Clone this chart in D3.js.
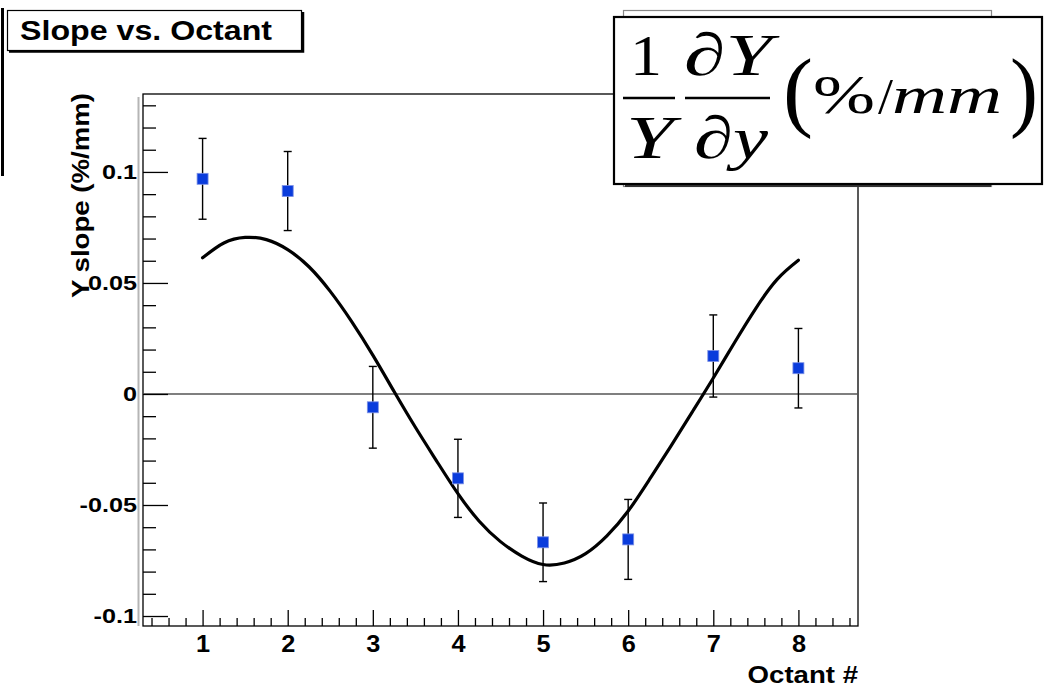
<!DOCTYPE html>
<html>
<head>
<meta charset="utf-8">
<script src="https://cdn.jsdelivr.net/npm/d3@7"></script>
<style>
  html, body { margin: 0; padding: 0; background: #fff; }
  svg { display: block; }
  .lab { font-family: "Liberation Sans", Arial, Helvetica, sans-serif; font-weight: bold; fill: #000; }
  .tex { font-family: "Liberation Serif", "Times New Roman", serif; fill: #000; }
</style>
</head>
<body>
<svg id="chart" width="1050" height="691"></svg>
<script>
// Measured Y slope per octant, with uncertainties
const octants  = [1, 2, 3, 4, 5, 6, 7, 8];
const slope    = [0.0969, 0.0914, -0.0060, -0.0380, -0.0668, -0.0655, 0.0171, 0.0116];
const slopeErr = [0.0182, 0.0178, 0.0184, 0.0176, 0.0177, 0.0180, 0.0185, 0.0179];

// Fitted curve, sampled every quarter octant
const fitX = [1, 1.25, 1.5, 1.75, 2, 2.25, 2.5, 2.75, 3, 3.25, 3.5, 3.75, 4, 4.25, 4.5, 4.75,
              5, 5.25, 5.5, 5.75, 6, 6.25, 6.5, 6.75, 7, 7.25, 7.5, 7.75, 8];
const fitY = [0.0613, 0.0680, 0.0705, 0.0695, 0.0650, 0.0573, 0.0462, 0.0327, 0.0175, 0.0011,
              -0.0150, -0.0302, -0.0449, -0.0573, -0.0665, -0.0730, -0.0768, -0.0761, -0.0719,
              -0.0639, -0.0527, -0.0385, -0.0236, -0.0083, 0.0072, 0.0232, 0.0386, 0.0516, 0.0602];

// Axis ticks and labels
const xTickValues = [1, 2, 3, 4, 5, 6, 7, 8];
const xTickLabels = ["1", "2", "3", "4", "5", "6", "7", "8"];
const yTickValues = [-0.1, -0.05, 0, 0.05, 0.1];
const yTickLabels = ["-0.1", "-0.05", "0", "0.05", "0.1"];

const title  = "Slope vs. Octant";
const xTitle = "Octant #";
const yTitle = "Y slope (%/mm)";

const svg = d3.select("#chart");

// widen bold sans labels to the broad lettering of the plot
function widen(sel, k) {
  sel.each(function () {
    const len = this.getComputedTextLength();
    d3.select(this).attr("textLength", len * k).attr("lengthAdjust", "spacingAndGlyphs");
  });
}

const frame = { left: 143, right: 858, top: 94, bottom: 626 };
const x = d3.scaleLinear().domain([0.3, 8.7]).range([frame.left, frame.right]);
const y = d3.scaleLinear().domain([-0.1045, 0.1351]).range([frame.bottom, frame.top]);

// page edge line on the far left
svg.append("line").attr("x1", 2.5).attr("x2", 2.5).attr("y1", 8).attr("y2", 176)
  .attr("stroke", "#000").attr("stroke-width", 3);

// soft grey edge next to the y axis
svg.append("line").attr("x1", 138.5).attr("x2", 138.5).attr("y1", 97).attr("y2", frame.bottom)
  .attr("stroke", "#b5b5b5").attr("stroke-width", 2);

// plot frame
svg.append("rect")
  .attr("x", frame.left).attr("y", frame.top)
  .attr("width", frame.right - frame.left).attr("height", frame.bottom - frame.top)
  .attr("fill", "none").attr("stroke", "#000").attr("stroke-width", 1.3);

// zero line
svg.append("line")
  .attr("x1", frame.left).attr("x2", frame.right)
  .attr("y1", y(0)).attr("y2", y(0))
  .attr("stroke", "#555").attr("stroke-width", 1.5);

// y axis: minor and major ticks pointing inward
const yMinor = d3.range(-10, 14).map(d => d / 100).filter(v => !yTickValues.some(t => Math.abs(t - v) < 1e-9));
svg.append("g").attr("transform", `translate(${frame.left},0)`)
  .call(d3.axisLeft(y).tickValues(yMinor).tickSizeInner(-13).tickSizeOuter(0).tickFormat(""))
  .call(g => g.select(".domain").remove())
  .call(g => g.selectAll("line").attr("stroke", "#000").attr("stroke-width", 1.3));

svg.append("g").attr("transform", `translate(${frame.left},0)`)
  .call(d3.axisLeft(y).tickValues(yTickValues).tickSizeInner(-25).tickSizeOuter(0).tickPadding(6)
    .tickFormat((d, i) => yTickLabels[i]))
  .call(g => g.select(".domain").remove())
  .call(g => g.selectAll("line").attr("stroke", "#000").attr("stroke-width", 1.3))
  .call(g => g.selectAll("text").attr("class", "lab").style("font-size", "21px").attr("fill", "#000"))
  .call(g => widen(g.selectAll("text"), 1.2));

// x axis
const xMinor = d3.range(2, 44).map(d => d / 5).filter(v => !xTickValues.some(t => Math.abs(t - v) < 1e-9));
svg.append("g").attr("transform", `translate(0,${frame.bottom})`)
  .call(d3.axisBottom(x).tickValues(xMinor).tickSizeInner(-8).tickSizeOuter(0).tickFormat(""))
  .call(g => g.select(".domain").remove())
  .call(g => g.selectAll("line").attr("stroke", "#000").attr("stroke-width", 1.3));

svg.append("g").attr("transform", `translate(0,${frame.bottom})`)
  .call(d3.axisBottom(x).tickValues(xTickValues).tickSizeInner(-16).tickSizeOuter(0).tickPadding(10)
    .tickFormat((d, i) => xTickLabels[i]))
  .call(g => g.select(".domain").remove())
  .call(g => g.selectAll("line").attr("stroke", "#000").attr("stroke-width", 1.3))
  .call(g => g.selectAll("text").attr("class", "lab").style("font-size", "23px").attr("fill", "#000"))
  .call(g => widen(g.selectAll("text"), 1.1));

// axis titles
svg.append("text").attr("class", "lab")
  .attr("x", frame.right).attr("y", 683)
  .attr("text-anchor", "end").style("font-size", "23px")
  .text(xTitle)
  .call(t => widen(t, 1.2));

svg.append("text").attr("class", "lab")
  .attr("transform", "translate(89,93) rotate(-90)")
  .attr("text-anchor", "end").style("font-size", "23px")
  .text(yTitle)
  .call(t => widen(t, 1.2));

// fit curve
const fit = fitX.map((v, i) => [v, fitY[i]]);
svg.append("path")
  .datum(fit)
  .attr("fill", "none").attr("stroke", "#000").attr("stroke-width", 3.2)
  .attr("stroke-linecap", "round")
  .attr("d", d3.line().x(d => x(d[0])).y(d => y(d[1])).curve(d3.curveNatural));

// error bars and markers
const pts = octants.map((o, i) => ({ o, v: slope[i], e: slopeErr[i] }));
const eb = svg.append("g").attr("stroke", "#000").attr("stroke-width", 1.4);
eb.selectAll(".bar").data(pts).join("line")
  .attr("x1", d => x(d.o)).attr("x2", d => x(d.o))
  .attr("y1", d => y(d.v - d.e)).attr("y2", d => y(d.v + d.e));
eb.selectAll(".capTop").data(pts).join("line")
  .attr("x1", d => x(d.o) - 4).attr("x2", d => x(d.o) + 4)
  .attr("y1", d => y(d.v + d.e)).attr("y2", d => y(d.v + d.e));
eb.selectAll(".capBot").data(pts).join("line")
  .attr("x1", d => x(d.o) - 4).attr("x2", d => x(d.o) + 4)
  .attr("y1", d => y(d.v - d.e)).attr("y2", d => y(d.v - d.e));

svg.append("g").selectAll("rect").data(pts).join("rect")
  .attr("x", d => x(d.o) - 5.5).attr("y", d => y(d.v) - 5.5)
  .attr("width", 11).attr("height", 11)
  .attr("fill", "#0a3cdc").attr("stroke", "#7d91e6").attr("stroke-width", 0.8);

// title box
svg.append("rect").attr("x", 7.5).attr("y", 10.5).attr("width", 294).attr("height", 40)
  .attr("fill", "#fff").attr("stroke", "#000").attr("stroke-width", 1.2);
svg.append("path").attr("d", "M9,51.5 H303 V12")
  .attr("fill", "none").attr("stroke", "#000").attr("stroke-width", 2.5);
svg.append("text").attr("class", "lab")
  .attr("x", 20).attr("y", 40).style("font-size", "28px")
  .attr("textLength", 252).attr("lengthAdjust", "spacingAndGlyphs")
  .text(title);

// formula box with the box behind it
svg.append("rect").attr("x", 623.5).attr("y", 10.5).attr("width", 368).attr("height", 176)
  .attr("fill", "#fff").attr("stroke", "#888").attr("stroke-width", 1.2);
svg.append("line").attr("x1", 625).attr("x2", 991).attr("y1", 186).attr("y2", 186)
  .attr("stroke", "#333").attr("stroke-width", 2);
svg.append("rect").attr("x", 614).attr("y", 17).attr("width", 428).attr("height", 167)
  .attr("fill", "#fff").attr("stroke", "#000").attr("stroke-width", 2.2);

const tex = svg.append("g");
function texText(str, xs, w, base, size, italic) {
  tex.append("text").attr("class", "tex")
    .attr("x", xs).attr("y", base)
    .style("font-size", size + "px")
    .style("font-style", italic ? "italic" : "normal")
    .attr("textLength", w).attr("lengthAdjust", "spacingAndGlyphs")
    .text(str);
}
texText("1", 630, 32, 75, 57, false);
tex.append("line").attr("x1", 623).attr("x2", 675).attr("y1", 98).attr("y2", 98)
  .attr("stroke", "#000").attr("stroke-width", 2.5);
texText("Y", 626, 48, 158, 62, true);

texText("\u2202Y", 684, 88, 75, 60, true);
tex.append("line").attr("x1", 685).attr("x2", 770).attr("y1", 98).attr("y2", 98)
  .attr("stroke", "#000").attr("stroke-width", 2.5);
texText("\u2202y", 694, 74, 158, 60, true);

texText("(", 783, 30, 120, 88, false);
texText("%", 813, 62, 113, 54, false);
texText("/", 878, 15, 113, 50, false);
texText("mm", 892, 110, 113, 52, true);
texText(")", 1010, 28, 120, 88, false);
</script>
</body>
</html>
